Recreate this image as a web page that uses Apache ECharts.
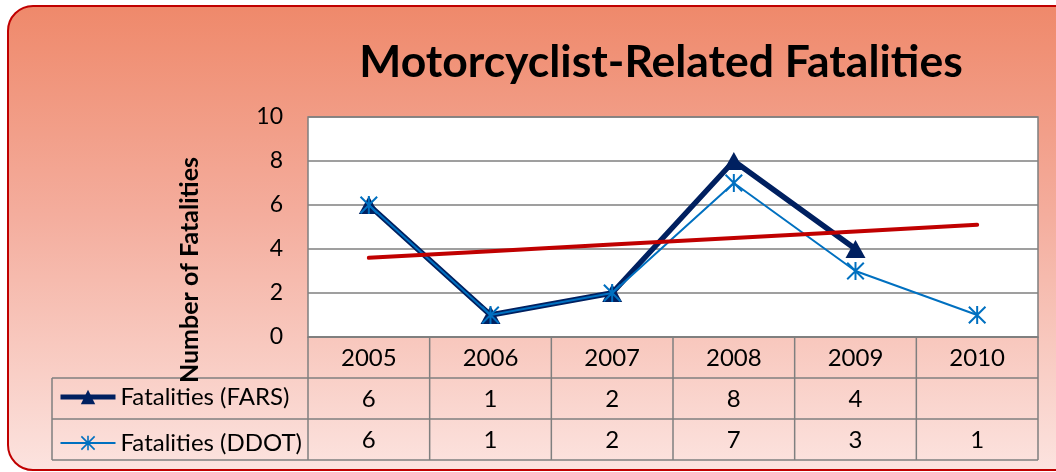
<!DOCTYPE html>
<html lang="en">
<head>
  <meta charset="UTF-8">
  <title>Motorcyclist-Related Fatalities</title>
  <script src="https://cdn.jsdelivr.net/npm/echarts/dist/echarts.min.js"></script>
  <style>
    html, body { margin: 0; padding: 0; background: #fff; width: 1056px; height: 472px; }
    #wrap { position: relative; width: 1056px; height: 472px; overflow: hidden; }
    /* rounded salmon frame behind the chart */
    .frame {
      position: absolute; left: 7px; top: 5px; width: 1070px; height: 462px;
      border: 2px solid #c00000; border-radius: 26px;
      background: linear-gradient(to bottom, #ef896b 0%, #f4ad9d 45%, #fce3df 100%);
    }
    #chart { position: absolute; left: 0; top: 0; width: 1056px; height: 472px; }
  </style>
</head>
<body>
  <div id="wrap">
    <div class="frame"></div>
    <div id="chart"></div>
  </div>
  <script>
    var years = ['2005', '2006', '2007', '2008', '2009', '2010'];
    var farsValues = [6, 1, 2, 8, 4, null];
    var ddotValues = [6, 1, 2, 7, 3, 1];
    var trendValues = [3.6, 3.9, 4.2, 4.5, 4.8, 5.1]; // linear trend of FARS
    var yTicks = [0, 2, 4, 6, 8, 10];
    var seriesNames = ['Fatalities (FARS)', 'Fatalities (DDOT)'];

    var FONT = 'Lato, "Open Sans", sans-serif';
    var GRID = { left: 308, right: 18, top: 117, bottom: 135 };
    var ROW = 41;
    var TABLE_LEFT = 52;
    var LINE_COLOR = '#7f7f7f';

    // asterisk marker (vertical bar + two diagonals)
    var asterisk = 'path://M44.5,0 L55.5,0 L55.5,100 L44.5,100 Z ' +
      'M7.8,0 L100,92.2 L92.2,100 L0,7.8 Z ' +
      'M92.2,0 L100,7.8 L7.8,100 L0,92.2 Z';

    var chart = echarts.init(document.getElementById('chart'));

    var option = {
      backgroundColor: 'transparent',
      animation: false,
      title: {
        text: 'Motorcyclist-Related Fatalities',
        left: 656,
        top: 35,
        textAlign: 'center',
        textStyle: { fontFamily: FONT, fontSize: 44.5, fontWeight: 'bold', color: '#000' }
      },
      legend: {
        data: [
          { name: seriesNames[0], lineStyle: { width: 5 } },
          { name: seriesNames[1], lineStyle: { width: 2 } }
        ],
        orient: 'vertical',
        left: 58,
        top: 385,
        padding: 0,
        itemWidth: 55,
        itemHeight: 18,
        itemGap: 22,
        textStyle: { fontFamily: FONT, fontSize: 24, color: '#000' }
      },
      grid: {
        left: GRID.left, right: GRID.right, top: GRID.top, bottom: GRID.bottom,
        show: true, backgroundColor: '#fff', borderColor: LINE_COLOR, borderWidth: 1.5
      },
      xAxis: {
        type: 'category',
        data: years,
        boundaryGap: true,
        axisLine: { show: true, lineStyle: { color: LINE_COLOR, width: 1.5 } },
        axisTick: { show: false },
        axisLabel: { show: false }
      },
      yAxis: {
        type: 'value',
        min: yTicks[0],
        max: yTicks[yTicks.length - 1],
        interval: yTicks[1] - yTicks[0],
        axisLine: { show: false },
        axisTick: { show: false },
        axisLabel: { fontFamily: FONT, fontSize: 23, color: '#000', margin: 25 },
        splitLine: { lineStyle: { color: LINE_COLOR, width: 1.5 } }
      },
      series: [
        {
          name: seriesNames[0],
          type: 'line',
          data: farsValues,
          color: '#002060',
          lineStyle: { width: 5.5 },
          symbol: 'triangle',
          symbolSize: [20, 18],
          z: 3
        },
        {
          name: seriesNames[1],
          type: 'line',
          data: ddotValues,
          color: '#0070c0',
          lineStyle: { width: 2 },
          symbol: asterisk,
          symbolSize: 18,
          z: 4
        },
        {
          name: 'Linear (Fatalities (FARS))',
          type: 'line',
          data: trendValues,
          color: '#c00000',
          lineStyle: { width: 4, cap: 'round' },
          symbol: 'none',
          z: 5
        }
      ]
    };

    chart.setOption(option);

    // data table under the plot, aligned with the category axis
    function buildTable() {
      var plotRight = 1056 - GRID.right;
      var top = 472 - GRID.bottom;
      var colW = (plotRight - GRID.left) / years.length;
      var els = [];
      var lineStyle = { stroke: LINE_COLOR, lineWidth: 1.5 };
      function hline(x1, x2, y) {
        els.push({ type: 'line', shape: { x1: x1, y1: y, x2: x2, y2: y }, style: lineStyle, silent: true });
      }
      function vline(x, y1, y2) {
        els.push({ type: 'line', shape: { x1: x, y1: y1, x2: x, y2: y2 }, style: lineStyle, silent: true });
      }
      function cell(txt, x, y) {
        els.push({
          type: 'text', x: x, y: y, silent: true,
          style: { text: txt, fill: '#000', font: '24px ' + FONT, textAlign: 'center', textVerticalAlign: 'middle' }
        });
      }
      hline(TABLE_LEFT, plotRight, top + ROW);
      hline(TABLE_LEFT, plotRight, top + 2 * ROW);
      hline(TABLE_LEFT, plotRight, top + 3 * ROW);
      vline(TABLE_LEFT, top + ROW, top + 3 * ROW);
      vline(GRID.left, top, top + 3 * ROW);
      for (var i = 0; i < years.length; i++) {
        var cx = chart.convertToPixel({ xAxisIndex: 0 }, years[i]);
        vline(cx + colW / 2, top, top + 3 * ROW);
        cell(years[i], cx, top + ROW / 2 + 1);
        cell(farsValues[i] == null ? '' : String(farsValues[i]), cx, top + ROW * 1.5 + 1);
        cell(ddotValues[i] == null ? '' : String(ddotValues[i]), cx, top + ROW * 2.5 + 1);
      }
      // y-axis title
      els.push({
        type: 'text', x: 190, y: 270, rotation: Math.PI / 2, silent: true,
        style: { text: 'Number of Fatalities', fill: '#000', font: 'bold 25px ' + FONT, textAlign: 'center', textVerticalAlign: 'middle' }
      });
      return els;
    }

    chart.setOption({ graphic: buildTable() });
  </script>
</body>
</html>
